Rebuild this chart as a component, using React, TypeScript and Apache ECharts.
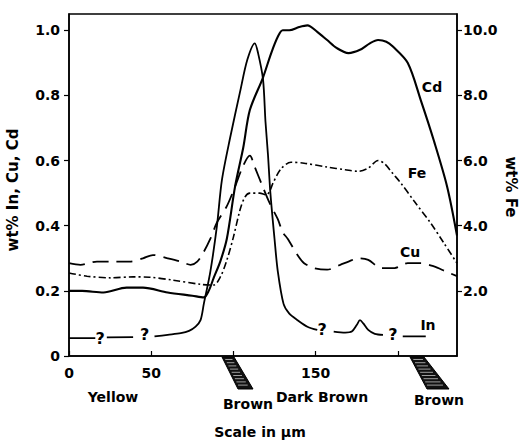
import React, { useEffect, useRef } from "react";
import * as echarts from "echarts";

// Cd (wt%, left axis) – solid line
const cdX = [0, 8, 21, 35, 45, 60, 75, 82, 85, 88, 92, 96, 101, 106, 110, 118, 123, 127, 130, 134, 140, 145, 151, 157, 163, 170, 177, 183, 188, 193, 197, 206, 214, 222, 230, 236];
const cdY = [0.2, 0.2, 0.195, 0.21, 0.21, 0.195, 0.185, 0.18, 0.2, 0.24, 0.29, 0.36, 0.52, 0.64, 0.755, 0.855, 0.93, 0.98, 1.0, 1.0, 1.01, 1.015, 0.995, 0.97, 0.945, 0.93, 0.94, 0.96, 0.97, 0.965, 0.95, 0.9, 0.785, 0.66, 0.52, 0.37];

// In (wt%, left axis) – solid, broken where "?" marks sit
const inX = [0, 16, 18, 23, 39, 44, 52, 60, 68, 73, 77, 80, 82, 86, 90, 93, 98, 104, 108.5, 113, 115, 118, 119.5, 121, 122.5, 125, 127, 130.5, 134, 139, 145, 151, 156, 161, 168, 172, 175, 177, 179, 182, 186, 191, 197, 203, 217];
const inY = [0.055, 0.055, null, 0.057, 0.058, null, 0.06, 0.065, 0.07, 0.077, 0.09, 0.11, 0.16, 0.26, 0.4, 0.54, 0.67, 0.81, 0.91, 0.96, 0.93, 0.85, 0.72, 0.62, 0.5, 0.36, 0.26, 0.16, 0.13, 0.11, 0.09, 0.08, null, 0.075, 0.072, 0.075, 0.095, 0.11, 0.1, 0.08, 0.068, 0.065, null, 0.06, 0.06];

// Cu (wt%, left axis) – long dashes
const cuX = [0, 7, 17, 25, 37, 45, 51, 60, 68, 74, 78, 82, 86, 90, 96, 101, 106, 110, 113, 117, 122, 127, 130, 133, 139, 143, 149, 157, 165, 170, 176, 182, 190, 198, 206, 214, 222, 229, 236];
const cuY = [0.285, 0.28, 0.29, 0.29, 0.29, 0.3, 0.31, 0.3, 0.29, 0.28, 0.29, 0.32, 0.36, 0.41, 0.46, 0.52, 0.585, 0.615, 0.58, 0.53, 0.47, 0.42, 0.38, 0.36, 0.31, 0.285, 0.27, 0.265, 0.28, 0.29, 0.3, 0.295, 0.27, 0.27, 0.285, 0.285, 0.275, 0.26, 0.245];

// Fe (wt%, right axis) – dash-dot
const feX = [0, 11, 25, 39, 49, 63, 80, 88, 92, 96, 100, 104, 107, 110, 116, 120, 122, 124, 129, 135, 143, 157, 168, 176, 182, 188, 192, 197, 202, 210, 220, 228, 236];
const feY = [2.55, 2.45, 2.4, 2.43, 2.42, 2.33, 2.2, 2.18, 2.42, 2.94, 3.65, 4.48, 4.88, 5.0, 5.0, 4.95, 5.05, 5.3, 5.75, 5.95, 5.92, 5.8, 5.72, 5.67, 5.77, 6.0, 5.9, 5.6, 5.3, 4.75, 4.08, 3.47, 2.85];

// "?" marks on the In trace
const qX = [19, 46, 154, 197];
const qY = [0.055, 0.065, 0.08, 0.065];

// axis ticks / labels
const leftTicks = [0, 0.2, 0.4, 0.6, 0.8, 1.0];
const rightTicks = [2, 4, 6, 8, 10];
const xTicks = [0, 50, 100, 150, 200];
const xLabels = [0, 50, 150];

const FONT = "DejaVu Sans";

const pairs = (xs: number[], ys: (number | null)[]) =>
  xs.map((x, i) => [x, ys[i] === null ? "-" : ys[i]]);

function hatch(pts: number[][]) {
  const [tl, tr, br, bl] = pts;
  const els: any[] = [];
  els.push({ type: "polygon", shape: { points: pts }, style: { fill: "#111", stroke: "#000", lineWidth: 1 }, silent: true });
  for (let y = tl[1] + 2.5; y < bl[1] - 1; y += 3.2) {
    const t = (y - tl[1]) / (bl[1] - tl[1]);
    const x1 = tl[0] + (bl[0] - tl[0]) * t;
    const x2 = tr[0] + (br[0] - tr[0]) * t;
    els.push({ type: "line", shape: { x1: x1 + 2, y1: y, x2: x2 - 3, y2: y }, style: { stroke: "#fff", lineWidth: 0.6 }, silent: true });
  }
  return els;
}

function text(x: number, y: number, t: string, size = 14, rotation = 0) {
  return {
    type: "text",
    x,
    y,
    rotation,
    style: { text: t, fill: "#000", font: `bold ${size}px "${FONT}"`, align: "center", verticalAlign: "middle" },
    silent: true,
  };
}

export default function App() {
  const ref = useRef<HTMLDivElement>(null);
  useEffect(() => {
    const chart = echarts.init(ref.current!, null, { renderer: "svg" });
    const axisText = { color: "#000", fontFamily: FONT, fontWeight: "bold", fontSize: 14 };
    chart.setOption({
      animation: false,
      backgroundColor: "#fff",
      grid: { left: 69, right: 63, top: 14, bottom: 84, show: true, borderColor: "#000", borderWidth: 1.5, backgroundColor: "transparent" },
      xAxis: {
        type: "value",
        min: 0,
        max: 236,
        axisLine: { lineStyle: { color: "#000", width: 1.5 } },
        axisTick: { inside: true, length: 5, customValues: xTicks, lineStyle: { color: "#000", width: 1.2 } },
        axisLabel: { ...axisText, margin: 10, customValues: xLabels, formatter: (v: number) => String(v) },
        splitLine: { show: false },
      },
      yAxis: [
        {
          type: "value",
          min: 0,
          max: 1.05,
          axisLine: { show: true, lineStyle: { color: "#000", width: 1.5 } },
          axisTick: { show: true, length: 5, customValues: leftTicks, lineStyle: { color: "#000", width: 1.2 } },
          axisLabel: { ...axisText, margin: 9, customValues: leftTicks, formatter: (v: number) => (v === 0 ? "0" : v.toFixed(1)) },
          splitLine: { show: false },
        },
        {
          type: "value",
          position: "right",
          min: 0,
          max: 10.5,
          axisLine: { show: true, lineStyle: { color: "#000", width: 1.5 } },
          axisTick: { show: true, length: 5, customValues: rightTicks, lineStyle: { color: "#000", width: 1.2 } },
          axisLabel: { ...axisText, margin: 6, customValues: rightTicks, formatter: (v: number) => v.toFixed(1) },
          splitLine: { show: false },
        },
      ],
      series: [
        {
          name: "Cd", type: "line", yAxisIndex: 0, data: pairs(cdX, cdY), showSymbol: false, smooth: 0.3,
          lineStyle: { color: "#000", width: 2.1 },
        },
        {
          name: "In", type: "line", yAxisIndex: 0, data: pairs(inX, inY), showSymbol: false, smooth: 0.3, connectNulls: false,
          lineStyle: { color: "#000", width: 1.8 },
        },
        {
          name: "Cu", type: "line", yAxisIndex: 0, data: pairs(cuX, cuY), showSymbol: false, smooth: 0.3,
          lineStyle: { color: "#000", width: 1.8, type: [16, 8] },
        },
        {
          name: "Fe", type: "line", yAxisIndex: 1, data: pairs(feX, feY), showSymbol: false, smooth: 0.3,
          lineStyle: { color: "#000", width: 1.6, type: [7, 3, 2, 3] },
        },
        {
          name: "?", type: "scatter", yAxisIndex: 0, data: pairs(qX, qY), symbolSize: 2,
          itemStyle: { color: "#000", opacity: 1 },
          label: {
            show: true, position: "inside", formatter: "?", color: "#000", opacity: 1,
            textBorderWidth: 0, fontFamily: FONT, fontWeight: "bold", fontSize: 16,
          },
        },
      ],
      graphic: [
        ...hatch([[222, 357], [234, 357], [253, 389], [238, 389]]),
        ...hatch([[410, 357], [424, 357], [449, 389], [427, 389]]),
        text(432, 87, "Cd"),
        text(417, 173, "Fe"),
        text(410, 252, "Cu"),
        text(428, 325, "In"),
        text(113, 397, "Yellow"),
        text(248, 404, "Brown"),
        text(322, 397, "Dark Brown"),
        text(439, 400, "Brown"),
        text(260, 432, "Scale in µm"),
        text(13, 190, "wt% In, Cu, Cd", 15, Math.PI / 2),
        text(511, 187, "wt% Fe", 15, -Math.PI / 2),
      ],
    });
    return () => chart.dispose();
  }, []);
  return <div ref={ref} style={{ width: 520, height: 440, position: "absolute", left: 0, top: 0 }} />;
}
